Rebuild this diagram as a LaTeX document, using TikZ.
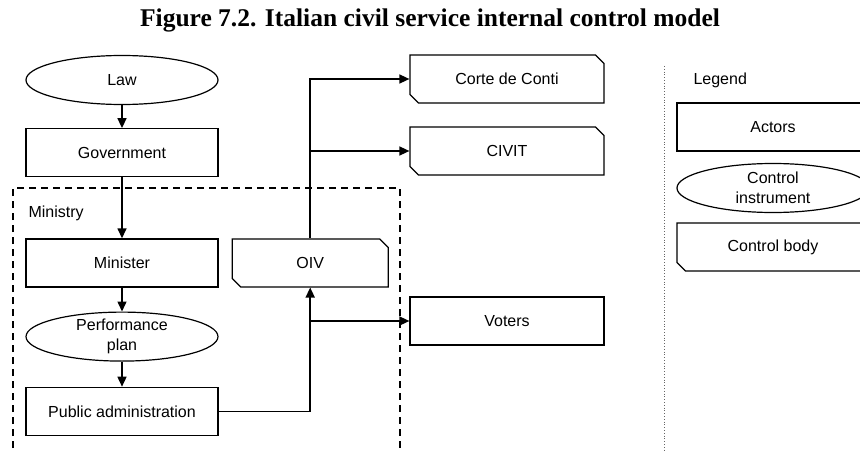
\documentclass[tikz,border=0pt]{standalone}
\usepackage{fontspec}
\setmainfont{Liberation Sans}
\newfontfamily\titlefont{Liberation Serif}
\usetikzlibrary{positioning, arrows.meta, shapes.geometric, shapes.misc}
\tikzset{
  actor/.style={draw, rectangle, minimum width=192pt, minimum height=48pt, align=center, line width=1.2pt},
  instrument/.style={draw, ellipse, minimum width=192pt, minimum height=49pt, inner xsep=0pt, inner ysep=-8pt, align=center, line width=1.2pt},
  controlbody/.style={draw, chamfered rectangle, chamfered rectangle corners={north east, south west}, chamfered rectangle xsep=5pt, minimum width=192pt, minimum height=48pt, align=center, line width=1.2pt},
  flow/.style={->, line width=1.5pt}
}

\begin{document}
\begin{tikzpicture}[x=1pt, y=1pt, font=\fontsize{16}{20.5}\selectfont, >={Triangle[length=10pt,width=9pt]}]
  \useasboundingbox (0,0) rectangle (860,-452);
  \clip (0,0) rectangle (860,-452);

  % Title
  \node[font=\titlefont\bfseries\fontsize{25.5}{30}\selectfont] (title) at (430,-20) {Figure 7.2. Italian civil service internal control model};

  % Ministry boundary
  \draw[dash pattern=on 7pt off 5pt, line width=1.1pt] (13,-460) -- (13,-188) -- (400,-188) -- (400,-460);
  \node[anchor=west] (ministry) at (25,-213) {Ministry};

  % Left column
  \node[instrument] (law) at (122,-80) {Law};
  \node[actor, below=23pt of law] (gov) {Government};
  \node[actor, below=61pt of gov] (minister) {Minister};
  \node[instrument, below=24pt of minister] (perf) {Performance\\plan};
  \node[actor, below=25pt of perf] (pubadm) {Public administration};

  % Control bodies and voters
  \node[controlbody, minimum width=156pt, right=13pt of minister] (oiv) {OIV};
  \node[controlbody, minimum width=194pt] (corte) at (507,-79) {Corte de Conti};
  \node[controlbody, minimum width=194pt] (civit) at (507,-151) {CIVIT};
  \node[actor, minimum width=194pt] (voters) at (507,-321) {Voters};

  % Connectors
  \draw[flow] (law) -- (gov);
  \draw[flow] (gov) -- (minister);
  \draw[flow] (minister) -- (perf);
  \draw[flow] (perf) -- (pubadm);
  \draw[flow] (pubadm.east) -| (oiv.south);
  \draw[flow] (oiv.north) |- (corte.west);
  \draw[flow] (oiv.north |- civit.west) -- (civit.west);
  \draw[flow] (oiv.south |- voters.west) -- (voters.west);

  % Legend
  \draw[dotted, line width=0.8pt, gray!80!black] (664,-66) -- (664,-460);
  \node[anchor=west] (legend) at (690,-80) {Legend};
  \node[actor] (lactor) at (773,-127) {Actors};
  \node[instrument] (linstr) at (773,-188) {Control\\instrument};
  \node[controlbody] (lbody) at (773,-247) {Control body};
\end{tikzpicture}
\end{document}
